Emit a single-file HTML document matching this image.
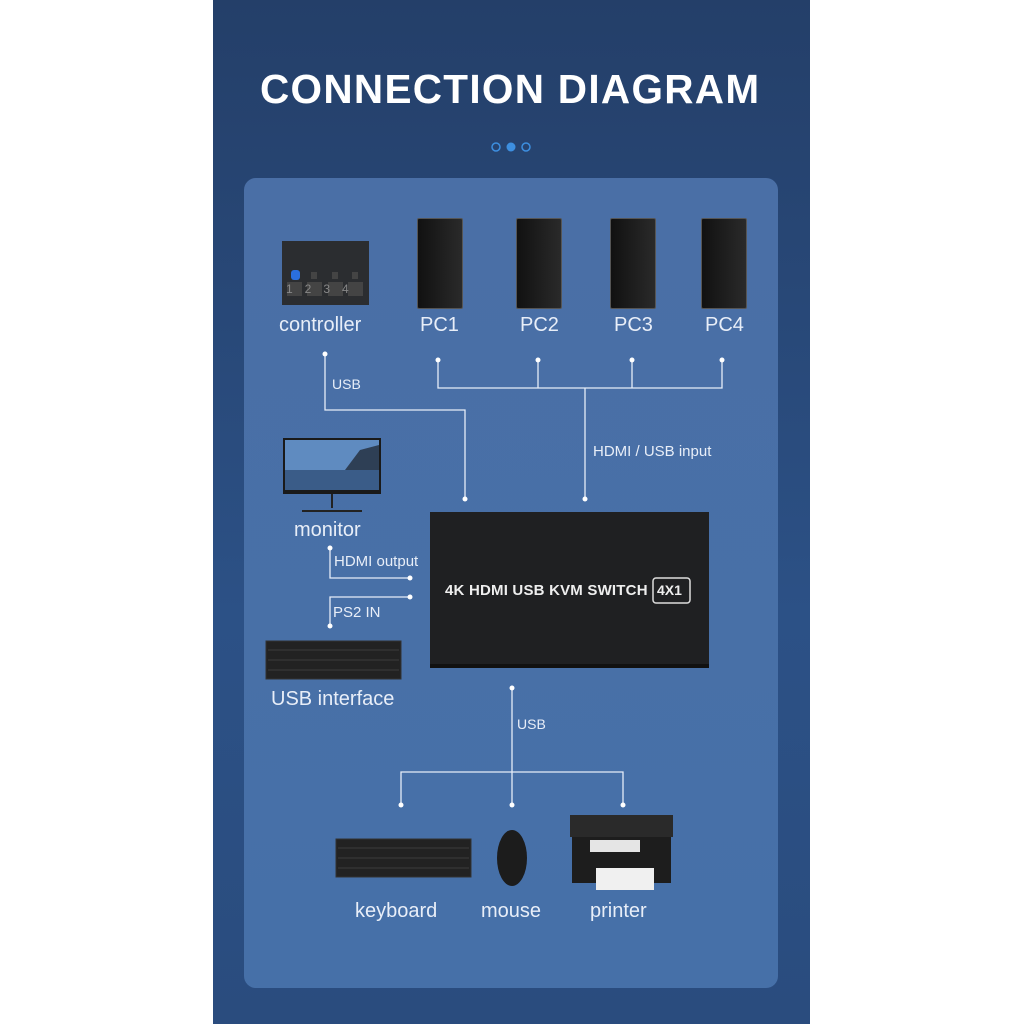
<!DOCTYPE html><html><head><style>
body{margin:0;width:1024px;height:1024px;background:#fff;position:relative;overflow:hidden;font-family:"Liberation Sans",sans-serif}
.bg{position:absolute;left:213px;top:0;width:597px;height:1024px;background:linear-gradient(180deg,#243f69,#2c5186 60%,#2a4c7e)}
.in{position:absolute;left:244px;top:178px;width:534px;height:810px;border-radius:12px;background:linear-gradient(180deg,#4a6fa6,#4670a8)}
.t{position:absolute;color:#e8eef8;white-space:nowrap}
.pc{position:absolute;top:218px;width:44px;height:89px;background:linear-gradient(90deg,#111,#2a2a2a);border:1px solid #555;border-radius:2px}
</style></head><body>
<div class="bg"></div><div class="in"></div>
<div class="t" style="left:260px;top:66px;font-size:40.5px;font-weight:bold;color:#fff;letter-spacing:1.3px">CONNECTION DIAGRAM</div>
<svg style="position:absolute;left:0;top:0" width="1024" height="1024">
<circle cx="496" cy="147" r="4" fill="none" stroke="#3d8fe0" stroke-width="1.5"/><circle cx="511" cy="147" r="4.5" fill="#3d8fe0"/><circle cx="526" cy="147" r="4" fill="none" stroke="#3d8fe0" stroke-width="1.5"/>
<g stroke="#e6edf8" stroke-width="1.3" fill="none">
<polyline points="325,353 325,410 465,410 465,498"/>
<polyline points="438,360 438,388 722,388 722,360"/><line x1="538" y1="360" x2="538" y2="388"/><line x1="632" y1="360" x2="632" y2="388"/><line x1="585" y1="388" x2="585" y2="498"/>
<polyline points="330,548 330,578 410,578"/><polyline points="410,597 330,597 330,626"/>
<line x1="512" y1="688" x2="512" y2="805"/><polyline points="401,805 401,772 623,772 623,805"/>
</g>
<g fill="#fff">
<circle cx="325" cy="354" r="2.5"/><circle cx="465" cy="499" r="2.5"/><circle cx="438" cy="360" r="2.5"/><circle cx="538" cy="360" r="2.5"/><circle cx="632" cy="360" r="2.5"/><circle cx="722" cy="360" r="2.5"/><circle cx="585" cy="499" r="2.5"/>
<circle cx="330" cy="548" r="2.5"/><circle cx="410" cy="578" r="2.5"/><circle cx="410" cy="597" r="2.5"/><circle cx="330" cy="626" r="2.5"/>
<circle cx="512" cy="688" r="2.5"/><circle cx="512" cy="805" r="2.5"/><circle cx="401" cy="805" r="2.5"/><circle cx="623" cy="805" r="2.5"/>
</g>
<rect x="282" y="241" width="87" height="64" fill="#2b2d30"/>
<rect x="291" y="270" width="9" height="10" rx="3" fill="#2a6fe0"/>
<g fill="#444"><rect x="311" y="272" width="6" height="7"/><rect x="332" y="272" width="6" height="7"/><rect x="352" y="272" width="6" height="7"/><rect x="287" y="282" width="15" height="14"/><rect x="307" y="282" width="15" height="14"/><rect x="328" y="282" width="15" height="14"/><rect x="348" y="282" width="15" height="14"/></g>
<rect x="283" y="438" width="98" height="56" fill="#1a1a1a"/>
<rect x="285" y="440" width="94" height="50" fill="#5f8bc0"/>
<rect x="285" y="470" width="94" height="20" fill="#3a5c88"/>
<path d="M345 470 L360 450 L379 445 L379 470Z" fill="#2e3f55"/>
<line x1="332" y1="494" x2="332" y2="508" stroke="#222" stroke-width="2"/><line x1="302" y1="511" x2="362" y2="511" stroke="#222" stroke-width="2"/>
<rect x="430" y="512" width="279" height="154" fill="#1f2022"/>
<rect x="430" y="664" width="279" height="4" fill="#111"/>
<rect x="653" y="578" width="37" height="25" rx="3" fill="none" stroke="#ddd" stroke-width="1.5"/>
<rect x="266" y="641" width="135" height="38" fill="#222" stroke="#333"/>
<rect x="336" y="839" width="135" height="38" fill="#222" stroke="#333"/>
<g stroke="#3c3c3c" stroke-width="1"><line x1="268" y1="650" x2="399" y2="650"/><line x1="268" y1="660" x2="399" y2="660"/><line x1="268" y1="670" x2="399" y2="670"/><line x1="338" y1="848" x2="469" y2="848"/><line x1="338" y1="858" x2="469" y2="858"/><line x1="338" y1="868" x2="469" y2="868"/></g>
<ellipse cx="512" cy="858" rx="15" ry="28" fill="#1c1c1c"/>
<rect x="570" y="815" width="103" height="22" fill="#2a2a2a"/>
<rect x="572" y="837" width="99" height="46" fill="#1d1d1d"/>
<rect x="596" y="868" width="58" height="22" fill="#f0f0f0"/>
<rect x="590" y="840" width="50" height="12" fill="#e5e5e5"/>
</svg>
<div class="pc" style="left:417px"></div><div class="pc" style="left:516px"></div><div class="pc" style="left:610px"></div><div class="pc" style="left:701px"></div>
<div class="t" style="left:286px;top:282px;font-size:12px;color:#888;letter-spacing:12px">1234</div>
<div class="t" style="left:279px;top:314px;font-size:20px">controller</div>
<div class="t" style="left:420px;top:314px;font-size:20px">PC1</div>
<div class="t" style="left:520px;top:314px;font-size:20px">PC2</div>
<div class="t" style="left:614px;top:314px;font-size:20px">PC3</div>
<div class="t" style="left:705px;top:314px;font-size:20px">PC4</div>
<div class="t" style="left:332px;top:376px;font-size:14px">USB</div>
<div class="t" style="left:593px;top:443px;font-size:15px">HDMI / USB input</div>
<div class="t" style="left:294px;top:519px;font-size:20px">monitor</div>
<div class="t" style="left:334px;top:553px;font-size:15px">HDMI output</div>
<div class="t" style="left:333px;top:604px;font-size:15px">PS2 IN</div>
<div class="t" style="left:271px;top:688px;font-size:20px">USB interface</div>
<div class="t" style="left:445px;top:582px;font-size:15px;font-weight:bold;color:#eee;letter-spacing:0.2px">4K HDMI USB KVM SWITCH</div>
<div class="t" style="left:657px;top:582px;font-size:14px;font-weight:bold;color:#eee">4X1</div>
<div class="t" style="left:517px;top:716px;font-size:14px">USB</div>
<div class="t" style="left:355px;top:900px;font-size:20px">keyboard</div>
<div class="t" style="left:481px;top:900px;font-size:20px">mouse</div>
<div class="t" style="left:590px;top:900px;font-size:20px">printer</div>
</body></html>
